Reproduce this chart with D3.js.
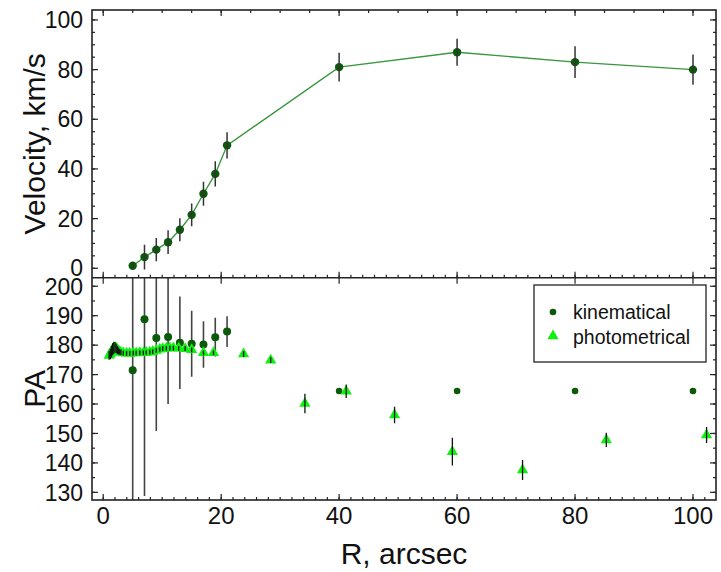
<!DOCTYPE html>
<html>
<head>
<meta charset="utf-8">
<script src="https://cdn.jsdelivr.net/npm/d3@7"></script>
<style>
  body { margin: 0; background: #fff; }
  svg { font-family: "Liberation Sans", Arial, sans-serif; }
</style>
</head>
<body>
<svg id="chart" width="721" height="572"></svg>
<script>
// rotation curve (top panel)
const velR = [5, 7, 9, 11, 13, 15, 17, 19, 21, 40, 60, 80, 100]
const velV = [1, 4.5, 7.5, 10.5, 15.5, 21.5, 30, 38, 49.5, 81, 87, 83, 80]
const velErr = [1, 5, 4.7, 4.8, 4.6, 4.6, 4.8, 5.1, 5.3, 5.8, 5.4, 6.4, 6.1]

// kinematical PA (bottom panel)
const kinR = [5, 7, 9, 11, 13, 15, 17, 19, 21, 40, 60, 80, 100]
const kinPA = [171.5, 188.8, 182.4, 182.8, 180.8, 180.5, 180.2, 182.7, 184.6, 164.4, 164.4, 164.4, 164.4]
const kinErr = [60, 60, 31.6, 22.8, 15.7, 11.2, 7.9, 6.6, 5.2, 0, 0, 0, 0]

// photometrical PA (bottom panel)
const photR = [1.0, 1.2, 1.4, 1.6, 1.8, 2.0, 2.2, 2.4, 2.6, 2.8, 3.0, 3.4, 3.96, 4.5, 5.1, 5.6,
  6.2, 6.8, 7.3, 7.9, 8.4, 9.0, 9.6, 10.1, 10.7, 11.3, 11.9, 12.8, 13.9, 15.0, 17.0, 18.7,
  23.8, 28.4, 34.2, 41.2, 49.4, 59.2, 71.1, 85.3, 102.3]
const photPA = [176.5, 177.0, 177.8, 178.6, 179.1, 179.2, 178.9, 178.4, 178.0, 177.7, 177.5, 177.3, 177.2, 177.2, 177.3, 177.3,
  177.4, 177.4, 177.5, 177.6, 177.8, 178.2, 178.6, 178.8, 178.9, 179.0, 179.0, 178.9, 178.8, 178.4, 177.4, 177.4,
  177.0, 174.9, 160.2, 164.3, 156.3, 143.8, 137.6, 147.8, 149.5]
const photErr = [1.5, 1.8, 2.0, 2.0, 2.0, 1.8, 1.6, 1.4, 1.2, 1.0, 0.9, 0.8, 0.8, 0.8, 0.8, 0.8,
  0.8, 0.8, 0.8, 0.8, 0.8, 0.8, 0.8, 0.8, 0.8, 0.8, 0.8, 0.8, 0.8, 0.8, 0.8, 0.8,
  1.0, 1.0, 3.3, 2.3, 2.8, 4.7, 3.4, 2.4, 2.7]

const xMajor = [0, 20, 40, 60, 80, 100]
const velTicks = [0, 20, 40, 60, 80, 100]
const paTicks = [130, 140, 150, 160, 170, 180, 190, 200]
const legendLabels = ['kinematical', 'photometrical']

const svg = d3.select('#chart')
const L = 92, R = 716, T = 10, M = 277.7, B = 500

const x = d3.scaleLinear().domain([-1.9, 103.9]).range([L, R])
const yTop = d3.scaleLinear().domain([-3.8, 104]).range([M, T])
const yBot = d3.scaleLinear().domain([127.4, 202.9]).range([B, M])

const frameColor = '#222'
const tickFont = 23

function range(a, b, step) {
  const out = []
  for (let v = a; v <= b + 1e-9; v += step) out.push(+v.toFixed(3))
  return out
}

// clip paths
const defs = svg.append('defs')
defs.append('clipPath').attr('id', 'clipTop')
  .append('rect').attr('x', L).attr('y', T).attr('width', R - L).attr('height', M - T)
defs.append('clipPath').attr('id', 'clipBot')
  .append('rect').attr('x', L).attr('y', M).attr('width', R - L).attr('height', B - M)

// ---- ticks ----
function vTicks(g, scale, values, len, xPos, dir) {
  g.selectAll(null).data(values).join('line')
    .attr('x1', xPos).attr('x2', xPos + dir * len)
    .attr('y1', d => scale(d)).attr('y2', d => scale(d))
    .attr('stroke', frameColor).attr('stroke-width', 1.2)
}
function hTicks(g, values, len, yPos, dir) {
  g.selectAll(null).data(values).join('line')
    .attr('x1', d => x(d)).attr('x2', d => x(d))
    .attr('y1', yPos).attr('y2', yPos + dir * len)
    .attr('stroke', frameColor).attr('stroke-width', 1.2)
}

const ticks = svg.append('g')
// top panel y
vTicks(ticks, yTop, range(0, 100, 5), 3, L, 1)
vTicks(ticks, yTop, velTicks, 6, L, 1)
vTicks(ticks, yTop, range(0, 100, 5), 3, R, -1)
vTicks(ticks, yTop, velTicks, 6, R, -1)
// bottom panel y
vTicks(ticks, yBot, range(130, 200, 5), 3, L, 1)
vTicks(ticks, yBot, paTicks, 6, L, 1)
vTicks(ticks, yBot, range(130, 200, 5), 3, R, -1)
vTicks(ticks, yBot, paTicks, 6, R, -1)
// top edge
hTicks(ticks, range(0, 100, 5), 3, T, 1)
hTicks(ticks, xMajor, 6, T, 1)
// divider
hTicks(ticks, range(0, 102, 2), 3, M, -1)
hTicks(ticks, xMajor, 6, M, -1)
hTicks(ticks, xMajor, 6, M, 1)
// bottom edge
hTicks(ticks, range(0, 102, 2), 3, B, -1)
hTicks(ticks, xMajor, 6, B, -1)

// tick labels
const labels = svg.append('g')
  .attr('font-size', tickFont).attr('fill', '#111')
labels.selectAll(null).data(velTicks).join('text')
  .attr('x', L - 9).attr('y', d => yTop(d)).attr('dy', '0.35em')
  .attr('text-anchor', 'end').text(d => d)
labels.selectAll(null).data(paTicks).join('text')
  .attr('x', L - 9).attr('y', d => yBot(d)).attr('dy', '0.36em')
  .attr('text-anchor', 'end').text(d => d)
labels.selectAll(null).data(xMajor).join('text')
  .attr('x', d => x(d)).attr('y', B + 24)
  .attr('text-anchor', 'middle').attr('font-size', 24).text(d => d)

// axis titles
svg.append('text')
  .attr('transform', `translate(45,${(T + M) / 2}) rotate(-90)`)
  .attr('text-anchor', 'middle').attr('font-size', 30).attr('fill', '#111')
  .text('Velocity, km/s')
svg.append('text')
  .attr('transform', `translate(45,${(M + B) / 2}) rotate(-90)`)
  .attr('text-anchor', 'middle').attr('font-size', 30).attr('fill', '#111')
  .text('PA')
svg.append('text')
  .attr('x', (L + R) / 2).attr('y', 564)
  .attr('text-anchor', 'middle').attr('font-size', 30).attr('fill', '#111')
  .text('R, arcsec')

// ---- top panel ----
const vel = velR.map((r, i) => ({r, v: velV[i], e: velErr[i]}))
const topPanel = svg.append('g').attr('clip-path', 'url(#clipTop)')

topPanel.append('path')
  .datum(vel)
  .attr('d', d3.line().x(d => x(d.r)).y(d => yTop(d.v)))
  .attr('fill', 'none').attr('stroke', '#3a963f').attr('stroke-width', 1.4)

topPanel.selectAll('circle').data(vel).join('circle')
  .attr('cx', d => x(d.r)).attr('cy', d => yTop(d.v)).attr('r', 4.2)
  .attr('fill', '#0a5a0a')

topPanel.selectAll('line').data(vel).join('line')
  .attr('x1', d => x(d.r)).attr('x2', d => x(d.r))
  .attr('y1', d => yTop(d.v - d.e)).attr('y2', d => yTop(d.v + d.e))
  .attr('stroke', '#333').attr('stroke-width', 1.5)

// ---- bottom panel ----
const kin = kinR.map((r, i) => ({r, pa: kinPA[i], e: kinErr[i]}))
const phot = photR.map((r, i) => ({r, pa: photPA[i], e: photErr[i]}))
const botPanel = svg.append('g').attr('clip-path', 'url(#clipBot)')

const tri = d3.symbol().type(d3.symbolTriangle).size(55)

botPanel.append('g').selectAll('line').data(kin.filter(d => d.e > 0)).join('line')
  .attr('x1', d => x(d.r)).attr('x2', d => x(d.r))
  .attr('y1', d => yBot(d.pa - d.e)).attr('y2', d => yBot(d.pa + d.e))
  .attr('stroke', '#444').attr('stroke-width', 1.6)

botPanel.append('g').selectAll('circle').data(kin).join('circle')
  .attr('cx', d => x(d.r)).attr('cy', d => yBot(d.pa))
  .attr('r', d => d.r > 30 ? 3.3 : 4)
  .attr('fill', '#0a5a0a')

botPanel.append('g').selectAll('path').data(phot).join('path')
  .attr('d', tri)
  .attr('transform', d => `translate(${x(d.r)},${yBot(d.pa)})`)
  .attr('fill', '#10f010')

botPanel.append('g').selectAll('line').data(phot).join('line')
  .attr('x1', d => x(d.r)).attr('x2', d => x(d.r))
  .attr('y1', d => yBot(d.pa - d.e)).attr('y2', d => yBot(d.pa + d.e))
  .attr('stroke', '#111').attr('stroke-width', 1.3)

// frame
svg.append('rect')
  .attr('x', L).attr('y', T).attr('width', R - L).attr('height', B - T)
  .attr('fill', 'none').attr('stroke', frameColor).attr('stroke-width', 1.6)
svg.append('line')
  .attr('x1', L).attr('x2', R).attr('y1', M).attr('y2', M)
  .attr('stroke', frameColor).attr('stroke-width', 1.6)

// legend
const legend = svg.append('g')
legend.append('rect')
  .attr('x', 534).attr('y', 285).attr('width', 172).attr('height', 77)
  .attr('fill', '#fff').attr('stroke', frameColor).attr('stroke-width', 1.3)
legend.append('circle')
  .attr('cx', 553).attr('cy', 312).attr('r', 3.3).attr('fill', '#0a5a0a')
legend.append('path')
  .attr('d', tri).attr('transform', 'translate(553,336)').attr('fill', '#10f010')
legend.selectAll('text').data(legendLabels).join('text')
  .attr('x', 573).attr('y', (d, i) => 319 + i * 25)
  .attr('font-size', 19.5).attr('fill', '#111')
  .text(d => d)
</script>
</body>
</html>
